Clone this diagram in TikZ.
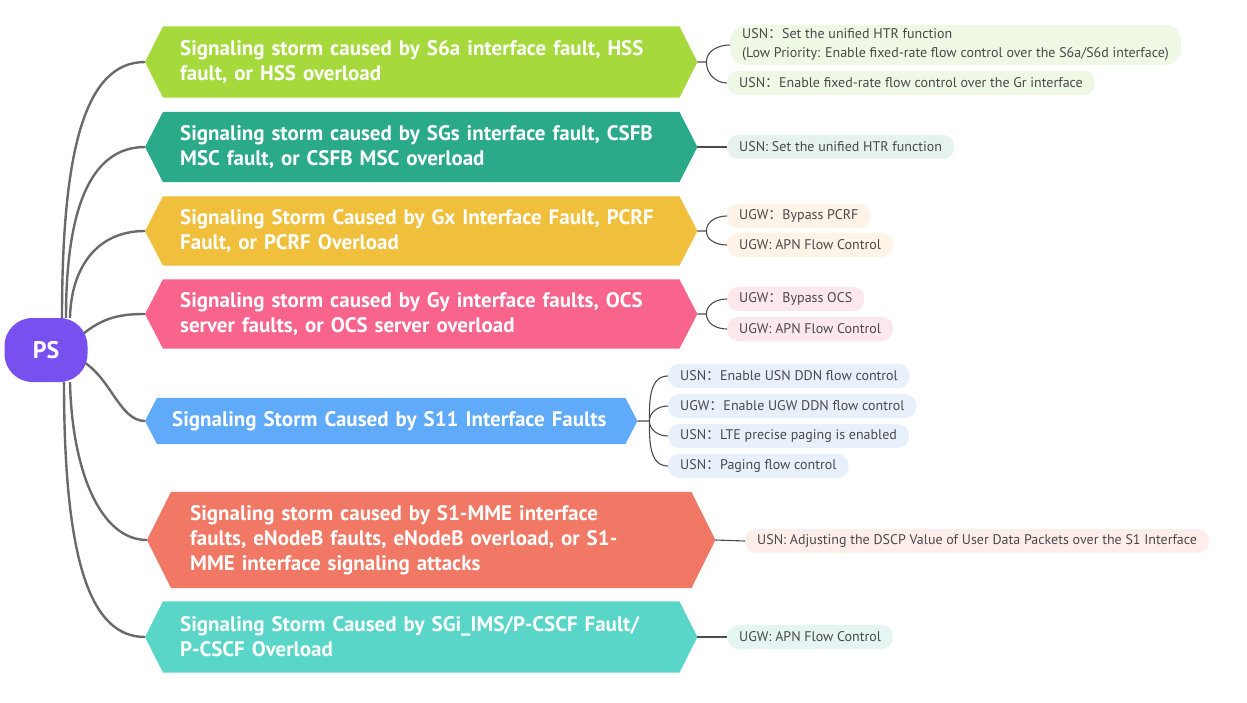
\documentclass[tikz,border=0pt]{standalone}
\usepackage{fontspec}
\setmainfont{PT Sans}
\newfontfamily\ptfont{PT Sans}
\newfontfamily\cjk{Noto Sans CJK SC}
\newcommand\fcolon{{\cjk ：}}
\usetikzlibrary{backgrounds}
\definecolor{cgreen}{HTML}{A6DA3C}
\definecolor{cteal}{HTML}{2BAA8A}
\definecolor{cyellow}{HTML}{F0C03C}
\definecolor{cpink}{HTML}{F8648C}
\definecolor{cblue}{HTML}{60AAFA}
\definecolor{csalmon}{HTML}{F07864}
\definecolor{ccyan}{HTML}{5AD6C8}
\definecolor{cps}{HTML}{7850F0}
\definecolor{lgreen}{HTML}{EEF8E4}
\definecolor{lteal}{HTML}{E6F2EE}
\definecolor{lyellow}{HTML}{FDF3E6}
\definecolor{lpink}{HTML}{FCE8EC}
\definecolor{lblue}{HTML}{E8F0FC}
\definecolor{lsalmon}{HTML}{FDEEEA}
\definecolor{lcyan}{HTML}{E4F5F2}
\definecolor{leaftext}{HTML}{4A4A4A}
\definecolor{wire}{HTML}{6A6A6A}
\newcommand\hexbg[3]{%
  \begin{pgfonlayer}{background}
  \fill[#2] (#1.west) -- ([xshift=#3]#1.north west) -- ([xshift=-#3]#1.north east) -- (#1.east)
    -- ([xshift=-#3]#1.south east) -- ([xshift=#3]#1.south west) -- cycle;
  \end{pgfonlayer}}
\begin{document}
\begin{tikzpicture}[x=1pt,y=-1pt,
  mainbox/.style={inner xsep=0pt, inner ysep=0pt, font=\ptfont\bfseries\fontsize{21}{25}\selectfont,
    text=white, align=left, anchor=west},
  leaf/.style={rounded corners=11pt, inner xsep=12pt, inner ysep=0pt, minimum height=24pt,
    font=\ptfont\fontsize{14}{19}\selectfont, text=leaftext, anchor=west, align=left},
  trunk/.style={draw=wire, line width=2.4pt},
  twig/.style={draw=black!70, line width=1.1pt}]
\useasboundingbox (0,0) rectangle (1247,703);
\begin{pgfonlayer}{background}
\fill[white] (0,0) rectangle (1247,703);
\end{pgfonlayer}

% root
\node[fill=cps, rounded corners=28pt, minimum width=83pt, minimum height=64pt, inner sep=0pt,
  text=white, font=\ptfont\bfseries\fontsize{24}{28}\selectfont] (ps) at (46,350) {PS};

% main branches
\node[mainbox, text width=482pt, minimum width=552pt, minimum height=71pt] (m1) at (145,62)
  {Signaling storm caused by S6a interface fault, HSS\\fault, or HSS overload};
\hexbg{m1}{cgreen}{18pt}
\node[mainbox, text width=482pt, minimum width=552pt, minimum height=70pt] (m2) at (145,147)
  {Signaling storm caused by SGs interface fault, CSFB\\MSC fault, or CSFB MSC overload};
\hexbg{m2}{cteal}{18pt}
\node[mainbox, text width=482pt, minimum width=552pt, minimum height=69pt] (m3) at (145,231)
  {Signaling Storm Caused by Gx Interface Fault, PCRF\\Fault, or PCRF Overload};
\hexbg{m3}{cyellow}{18pt}
\node[mainbox, text width=482pt, minimum width=552pt, minimum height=69pt] (m4) at (145,314)
  {Signaling storm caused by Gy interface faults, OCS\\server faults, or OCS server overload};
\hexbg{m4}{cpink}{18pt}
\node[mainbox, text width=438pt, minimum width=492pt, minimum height=46pt] (m5) at (145,421)
  {Signaling Storm Caused by S11 Interface Faults};
\hexbg{m5}{cblue}{12pt}
\node[mainbox, text width=482pt, minimum width=568pt, minimum height=96pt] (m6) at (147,540)
  {Signaling storm caused by S1-MME interface\\faults, eNodeB faults, eNodeB overload, or S1-\\MME interface signaling attacks};
\hexbg{m6}{csalmon}{24pt}
\node[mainbox, text width=482pt, minimum width=552pt, minimum height=71pt] (m7) at (145,637)
  {Signaling Storm Caused by SGi\_IMS/P-CSCF Fault/\\P-CSCF Overload};
\hexbg{m7}{ccyan}{18pt}

% trunks (behind the root)
\begin{pgfonlayer}{background}
\draw[trunk] ([xshift=16pt]ps.north) .. controls (62,150) and (85,62) .. (m1.west);
\draw[trunk] ([xshift=20pt]ps.north) .. controls (66,210) and (90,147) .. (m2.west);
\draw[trunk] ([xshift=24pt]ps.north) .. controls (71,270) and (95,231) .. (m3.west);
\draw[trunk] ([xshift=30pt,yshift=10pt]ps.center) .. controls (100,318) and (118,314) .. (m4.west);
\draw[trunk] ([xshift=30pt,yshift=-8pt]ps.center) .. controls (110,372) and (118,421) .. (m5.west);
\draw[trunk] ([xshift=24pt]ps.south) .. controls (72,470) and (100,540) .. (m6.west);
\draw[trunk] ([xshift=18pt]ps.south) .. controls (64,560) and (90,637) .. (m7.west);
\end{pgfonlayer}

% leaves
\node[leaf, fill=lgreen, minimum height=40pt, rounded corners=16pt] (l1a) at (730,45)
  {USN\fcolon Set the unified HTR function\\(Low Priority: Enable fixed-rate flow control over the S6a/S6d interface)};
\node[leaf, fill=lgreen] (l1b) at (727,83) {USN\fcolon Enable fixed-rate flow control over the Gr interface};
\node[leaf, fill=lteal] (l2) at (727,147) {USN: Set the unified HTR function};
\node[leaf, fill=lyellow] (l3a) at (727,216) {UGW\fcolon Bypass PCRF};
\node[leaf, fill=lyellow] (l3b) at (727,245) {UGW: APN Flow Control};
\node[leaf, fill=lpink] (l4a) at (727,299) {UGW\fcolon Bypass OCS};
\node[leaf, fill=lpink] (l4b) at (727,329) {UGW: APN Flow Control};
\node[leaf, fill=lblue] (l5a) at (668,376) {USN\fcolon Enable USN DDN flow control};
\node[leaf, fill=lblue] (l5b) at (668,406) {UGW\fcolon Enable UGW DDN flow control};
\node[leaf, fill=lblue] (l5c) at (668,436) {USN\fcolon LTE precise paging is enabled};
\node[leaf, fill=lblue] (l5d) at (668,466) {USN\fcolon Paging flow control};
\node[leaf, fill=lsalmon] (l6) at (745,541) {USN: Adjusting the DSCP Value of User Data Packets over the S1 Interface};
\node[leaf, fill=lcyan] (l7) at (727,637) {UGW: APN Flow Control};

% twigs
\coordinate (f1) at ([xshift=9pt]m1.east);
\draw[twig] (m1.east) -- (f1) to[out=90,in=180] (l1a.west);
\draw[twig] (f1) to[out=-90,in=180] (l1b.west);
\draw[twig] (m2.east) -- (l2.west);
\coordinate (f3) at ([xshift=9pt]m3.east);
\draw[twig] (m3.east) -- (f3) to[out=90,in=180] (l3a.west);
\draw[twig] (f3) to[out=-90,in=180] (l3b.west);
\coordinate (f4) at ([xshift=9pt]m4.east);
\draw[twig] (m4.east) -- (f4) to[out=90,in=180] (l4a.west);
\draw[twig] (f4) to[out=-90,in=180] (l4b.west);
\coordinate (f5) at ([xshift=12pt]m5.east);
\draw[twig] (m5.east) -- (f5) to[out=90,in=180] (l5a.west);
\draw[twig] (f5) to[out=90,in=180] (l5b.west);
\draw[twig] (f5) to[out=-90,in=180] (l5c.west);
\draw[twig] (f5) to[out=-90,in=180] (l5d.west);
\draw[twig] (m6.east) -- (l6.west);
\draw[twig] (m7.east) -- (l7.west);
\end{tikzpicture}
\end{document}
